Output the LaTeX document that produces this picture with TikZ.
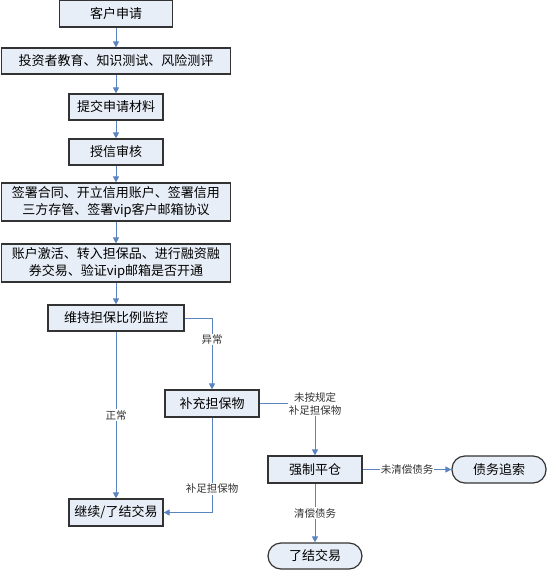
\documentclass[tikz,border=0pt]{standalone}
\usepackage{fontspec}
\setmainfont{Noto Sans CJK SC}
\usetikzlibrary{positioning, arrows.meta}
\definecolor{boxfill}{HTML}{E8EEF7}
\definecolor{linkblue}{HTML}{5B83C0}

\begin{document}
\begin{tikzpicture}[x=1pt, y=-1pt,
        every node/.style={font=\fontsize{13}{17}\selectfont, inner sep=1pt},
        block/.style={draw=black!80, line width=1.2pt, fill=boxfill, align=center, minimum height=27pt},
        term/.style={block, rounded corners=13pt},
        link/.style={linkblue, line width=1pt, -{Triangle[length=6pt, width=6pt]}},
        tag/.style={font=\fontsize{10.5}{13}\selectfont, fill=white, inner sep=1pt, align=center, text=black!80}
    ]
    \useasboundingbox (0,0) rectangle (547,570);

    \node[block, minimum width=113pt] (apply) at (116,13.5) {客户申请};
    \node[block, minimum width=229pt, minimum height=26pt] (edu) at (116,61) {投资者教育、知识测试、风险测评};
    \node[block, minimum width=94pt, minimum height=26pt] (submit) at (116,107) {提交申请材料};
    \node[block, minimum width=94pt, minimum height=26pt] (audit) at (116,152) {授信审核};
    \node[block, minimum width=229pt, minimum height=38pt] (sign) at (116,202)
        {签署合同、开立信用账户、签署信用\\三方存管、签署vip客户邮箱协议};
    \node[block, minimum width=229pt, minimum height=38pt] (open) at (116,263)
        {账户激活、转入担保品、进行融资融\\券交易、验证vip邮箱是否开通};
    \node[block, minimum width=136pt, minimum height=26pt] (monitor) at (116,318) {维持担保比例监控};
    \node[block, minimum width=94pt] (topup) at (212,403.5) {补充担保物};
    \node[block, minimum width=94pt] (goon) at (116,512.5) {继续/了结交易};
    \node[block, minimum width=94pt] (liquid) at (315,469.5) {强制平仓};
    \node[term, minimum width=94pt] (recover) at (499,469.5) {债务追索};
    \node[term, minimum width=94pt, minimum height=26pt] (close) at (315,556) {了结交易};

    \draw[link] (apply) -- (edu);
    \draw[link] (edu) -- (submit);
    \draw[link] (submit) -- (audit);
    \draw[link] (audit) -- (sign);
    \draw[link] (sign) -- (open);
    \draw[link] (open) -- (monitor);

    \draw[link] (monitor.east) -| node[tag, pos=0.65] {异常} (topup.north);
    \draw[link] (monitor) -- node[tag] {正常} (goon);
    \draw[link] (topup.south) |- node[tag, pos=0.375] {补足担保物} (goon.east);
    \draw[link] (topup.east) -| node[tag, pos=0.5] {未按规定\\补足担保物} (liquid.north);
    \draw[link] (liquid) -- node[tag] {未清偿债务} (recover);
    \draw[link] (liquid) -- node[tag] {清偿债务} (close);
\end{tikzpicture}
\end{document}
